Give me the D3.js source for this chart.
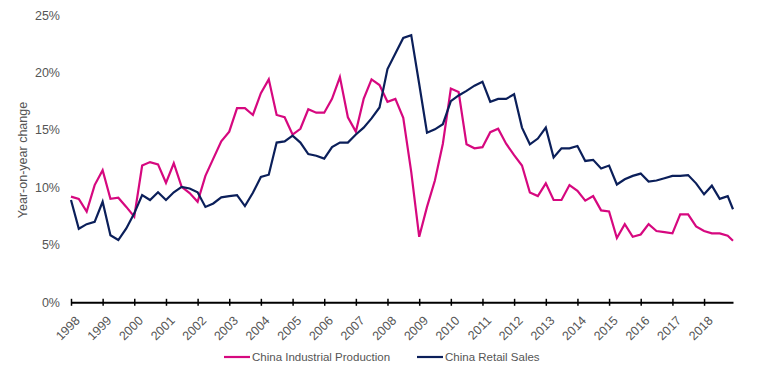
<!DOCTYPE html>
<html>
<head>
<meta charset="utf-8">
<script src="https://cdn.jsdelivr.net/npm/d3@7"></script>
<style>
  body { margin: 0; background: #fff; }
  svg text { font-family: "Liberation Sans", Arial, sans-serif; fill: #555; }
</style>
</head>
<body>
<div id="chart"></div>
<script>
// quarterly observations, last one is the latest (Nov/Dec 2018) release
var periods = d3.timeMonth.every(3).range(new Date(1998, 0, 1), new Date(2018, 9, 2))
  .concat([new Date(2018, 11, 1)]);

var industrialProduction = [
  9.2, 9.0, 7.9, 10.2, 11.5, 9.0, 9.1, 8.3, 7.45, 11.9, 12.2, 12.0,
  10.4, 12.1, 10.05, 9.5, 8.75, 11.0, 12.5, 14.0, 14.85, 16.9, 16.9, 16.3,
  18.2, 19.4, 16.3, 16.1, 14.6, 15.1, 16.8, 16.5, 16.5, 17.7, 19.6, 16.1,
  14.85, 17.7, 19.4, 18.9, 17.45, 17.7, 16.05, 11.35, 5.7, 8.3, 10.6, 13.8,
  18.6, 18.3, 13.75, 13.4, 13.5, 14.8, 15.1, 13.8, 12.8, 11.9, 9.55, 9.24,
  10.35, 8.9, 8.9, 10.2, 9.7, 8.85, 9.24, 8.0, 7.9, 5.6, 6.8, 5.7,
  5.9, 6.8, 6.2, 6.1, 6.0, 7.65, 7.65, 6.6, 6.2, 6.0, 6.0, 5.8, 5.36
];

var retailSales = [
  8.9, 6.4, 6.8, 7.0, 8.75, 5.83, 5.42, 6.43, 7.74, 9.33, 8.9, 9.57,
  8.9, 9.57, 10.05, 9.9, 9.57, 8.3, 8.6, 9.13, 9.24, 9.33, 8.37, 9.53,
  10.9, 11.1, 13.9, 14.0, 14.5, 13.9, 12.9, 12.75, 12.5, 13.5, 13.9, 13.9,
  14.6, 15.2, 16.0, 16.95, 20.3, 21.65, 23.0, 23.25, 19.0, 14.75, 15.05, 15.5,
  17.5, 18.0, 18.4, 18.85, 19.2, 17.45, 17.7, 17.7, 18.1, 15.2, 13.75, 14.25,
  15.2, 12.6, 13.4, 13.4, 13.6, 12.3, 12.4, 11.65, 11.9, 10.25, 10.7, 11.0,
  11.2, 10.5, 10.6, 10.8, 11.0, 11.0, 11.07, 10.35, 9.4, 10.15, 9.0, 9.24, 8.1
];

var yTicks = [0, 5, 10, 15, 20, 25];

var series = [
  { name: "China Industrial Production", values: industrialProduction, color: "#d6087f" },
  { name: "China Retail Sales", values: retailSales, color: "#0b1f5a" }
];

var width = 757, height = 378;

var svg = d3.select("#chart").append("svg")
  .attr("width", width)
  .attr("height", height);

var x = d3.scaleTime()
  .domain([periods[0], periods[periods.length - 1]])
  .range([71, 733]);

var y = d3.scaleLinear()
  .domain([0, 25])
  .range([302.3, 15]);

// y axis: labels only
var yAxis = svg.append("g")
  .attr("transform", "translate(60,0)")
  .call(d3.axisLeft(y).tickValues(yTicks).tickSize(0).tickPadding(0)
    .tickFormat(function (d) { return d + "%"; }));
yAxis.select(".domain").remove();
yAxis.selectAll("text")
  .style("font-size", "12.5px")
  .style("fill", "#555");

svg.append("text")
  .attr("transform", "translate(27," + 160 + ") rotate(-90)")
  .attr("text-anchor", "middle")
  .style("font-size", "12.5px")
  .text("Year-on-year change");

// lines
var line = d3.line()
  .x(function (d, i) { return x(periods[i]); })
  .y(function (d) { return y(d); });

series.forEach(function (s) {
  svg.append("path")
    .datum(s.values)
    .attr("fill", "none")
    .attr("stroke", s.color)
    .attr("stroke-width", 2.2)
    .attr("stroke-linejoin", "miter")
    .attr("d", line);
});

// x axis
var xAxis = svg.append("g")
  .attr("transform", "translate(0," + y(0) + ")")
  .call(d3.axisBottom(x).ticks(d3.timeYear.every(1)).tickSizeOuter(0)
    .tickFormat(d3.timeFormat("%Y")));
xAxis.select(".domain")
  .attr("stroke", "#000")
  .attr("stroke-width", 2);
xAxis.selectAll(".tick line")
  .attr("stroke", "#000")
  .attr("stroke-width", 1.5)
  .attr("y1", -3.5)
  .attr("y2", 3.5);
xAxis.selectAll(".tick text")
  .attr("x", 0)
  .attr("y", 0)
  .attr("dy", "0.35em")
  .attr("transform", "translate(6,16) rotate(-45)")
  .style("text-anchor", "end")
  .style("font-size", "12.5px")
  .style("fill", "#555");

// legend
var legendX = [224, 417];
var legend = svg.selectAll(".legend")
  .data(series)
  .enter().append("g")
  .attr("class", "legend")
  .attr("transform", function (d, i) { return "translate(" + legendX[i] + ",357)"; });
legend.append("line")
  .attr("x1", 0).attr("x2", 26)
  .attr("stroke", function (d) { return d.color; })
  .attr("stroke-width", 2.2);
legend.append("text")
  .attr("x", 28)
  .attr("dy", "0.35em")
  .style("font-size", "11.5px")
  .text(function (d) { return d.name; });
</script>
</body>
</html>
